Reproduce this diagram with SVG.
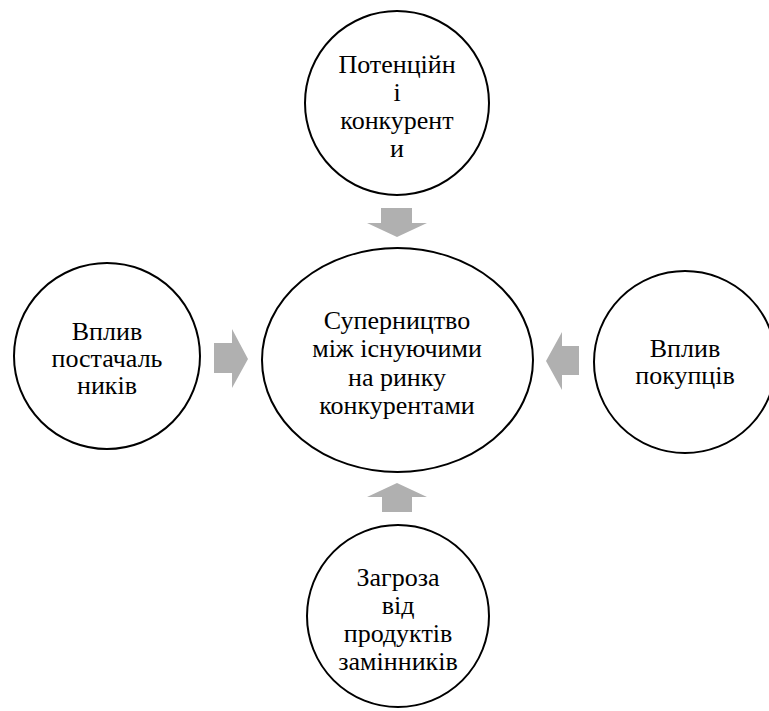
<svg xmlns="http://www.w3.org/2000/svg" width="769" height="711" viewBox="0 0 769 711">
<style>
.n{fill:#fff;stroke:#000;stroke-width:2}
.t{font-family:"Liberation Serif","Times New Roman",serif;font-size:26px;fill:#000;text-anchor:middle}
.a{fill:#b0b0b0;stroke:none}
</style>
<rect width="769" height="711" fill="#fff"/>
<g id="connectors">
<polygon class="a" points="381,208 412,208 412,223 427,223 397,237 367,223 381,223"/>
<polygon class="a" points="382,512 412,512 412,497 427,497 397,483 367,497 382,497"/>
<polygon class="a" points="214,343 232,343 232,329 248,359 232,388 232,373 214,373"/>
<polygon class="a" points="579,346 562,346 562,332 546,361 562,390 562,375 579,375"/>
</g>
<g id="top">
<circle class="n" cx="397" cy="103" r="92"/>
<text class="t" x="397" y="73">Потенційн</text>
<text class="t" x="397" y="101">і</text>
<text class="t" x="397" y="129">конкурент</text>
<text class="t" x="397" y="157">и</text>
</g>
<g id="center">
<ellipse class="n" cx="397.5" cy="360" rx="135.5" ry="112"/>
<text class="t" x="397" y="329">Суперництво</text>
<text class="t" x="397" y="357">між існуючими</text>
<text class="t" x="397" y="386">на ринку</text>
<text class="t" x="397" y="414">конкурентами</text>
</g>
<g id="left">
<circle class="n" cx="107" cy="356" r="93"/>
<text class="t" x="107" y="340">Вплив</text>
<text class="t" x="107" y="367">постачаль</text>
<text class="t" x="107" y="394">ників</text>
</g>
<g id="right">
<circle class="n" cx="685" cy="362" r="91"/>
<text class="t" x="685" y="357">Вплив</text>
<text class="t" x="685" y="384">покупців</text>
</g>
<g id="bottom">
<circle class="n" cx="398" cy="616" r="91"/>
<text class="t" x="398" y="586">Загроза</text>
<text class="t" x="398" y="614">від</text>
<text class="t" x="398" y="642">продуктів</text>
<text class="t" x="398" y="670">замінників</text>
</g>
</svg>
